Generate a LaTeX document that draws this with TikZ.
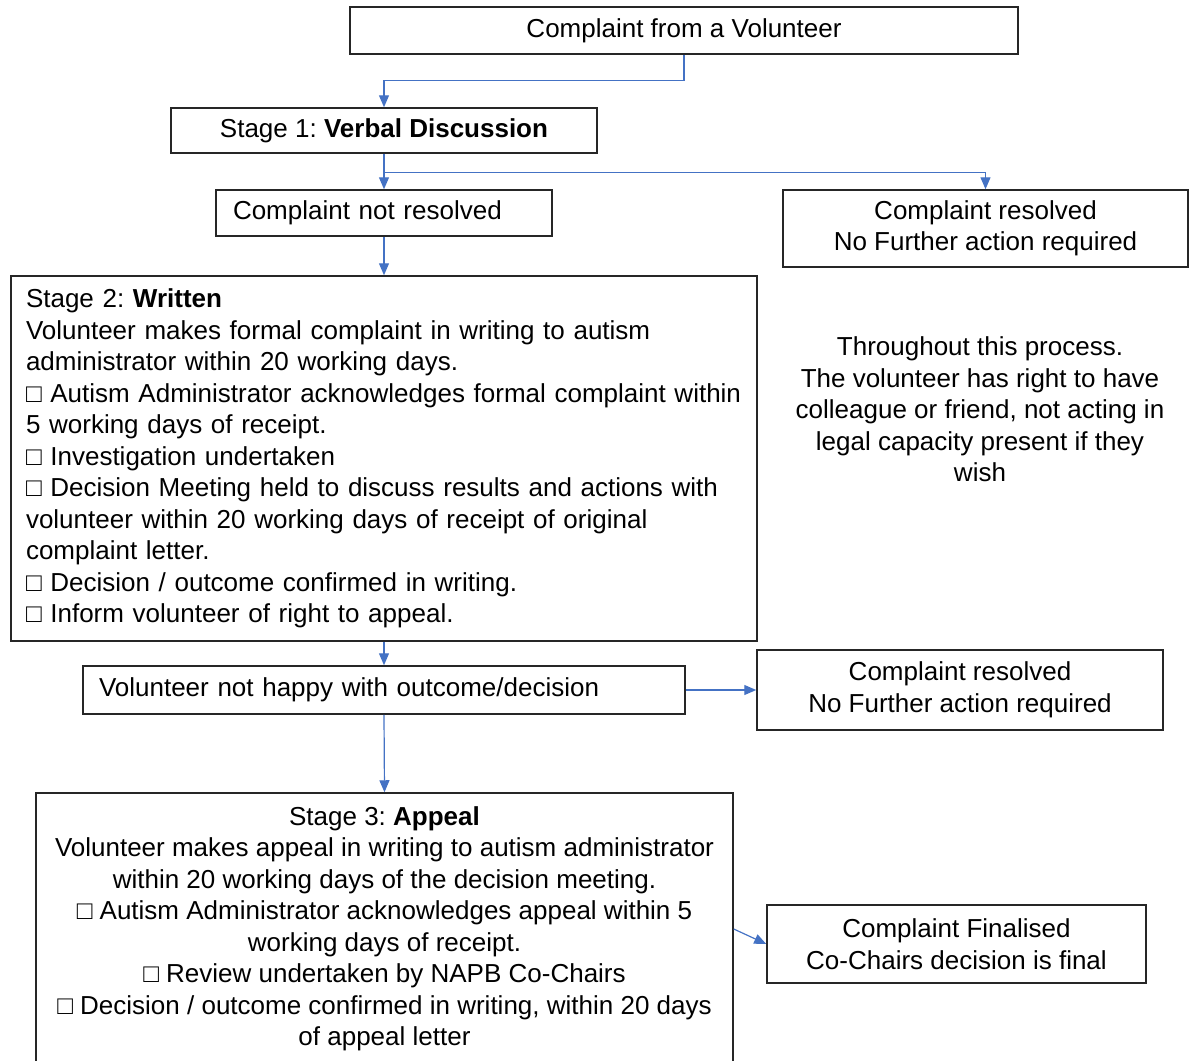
\documentclass[tikz,border=0pt]{standalone}
\usepackage{fontspec}
\setmainfont{Liberation Sans}
\usepackage{tikz}
\usepackage{xcolor}
\usetikzlibrary{arrows.meta}
\definecolor{flowblue}{RGB}{68,114,196}
\frenchspacing

\begin{document}
\begin{tikzpicture}[x=0.5pt,y=-0.5pt,
		box/.style={draw=black!85,line width=0.75pt,fill=white,align=center,
			font=\fontsize{13pt}{15.75pt}\selectfont},
		leftbox/.style={box,align=left},
		arr/.style={draw=flowblue,line width=0.6pt,-{Triangle[length=6pt,width=5pt]}}]
		\useasboundingbox (0,0) rectangle (1190,1061);
		\clip (0,0) rectangle (1190,1061);
		
		\node[box,minimum width=334pt,minimum height=23.5pt] (volunteer) at (684,30.5)
			{Complaint from a Volunteer};
		\node[box,minimum width=213pt,minimum height=22.5pt] (stageone) at (384,130.5)
			{Stage 1: \textbf{Verbal Discussion}};
		\node[leftbox,text width=151pt,inner xsep=8.5pt,minimum height=23pt] (notresolved) at (384,213)
			{Complaint not resolved};
		\node[box,minimum width=202.5pt,minimum height=38.5pt] (resolvedone) at (985.5,228.5)
			{Complaint resolved\\No Further action required};
		\node[leftbox,text width=358pt,inner xsep=7.5pt,minimum height=182.5pt] (stagetwo) at (384,458.5)
			{Stage 2: \textbf{Written}\\
			Volunteer makes formal complaint in writing to autism\\
			administrator within 20 working days.\\
			□ Autism Administrator acknowledges formal complaint within\\
			5 working days of receipt.\\
			□ Investigation undertaken\\
			□ Decision Meeting held to discuss results and actions with\\
			volunteer within 20 working days of receipt of original\\
			complaint letter.\\
			□ Decision / outcome confirmed in writing.\\
			□ Inform volunteer of right to appeal.};
		\node[box,draw=none,fill=none] (note) at (980,409.5)
			{Throughout this process.\\
			The volunteer has right to have\\
			colleague or friend, not acting in\\
			legal capacity present if they\\
			wish};
		\node[leftbox,text width=285pt,inner xsep=8pt,minimum height=24pt] (nothappy) at (384,690)
			{Volunteer not happy with outcome/decision};
		\node[box,minimum width=203pt,minimum height=40pt] (resolvedtwo) at (960,690)
			{Complaint resolved\\No Further action required};
		\node[box,minimum width=348.5pt,minimum height=136pt] (stagethree) at (384.5,929)
			{Stage 3: \textbf{Appeal}\\
			Volunteer makes appeal in writing to autism administrator\\
			within 20 working days of the decision meeting.\\
			□ Autism Administrator acknowledges appeal within 5\\
			working days of receipt.\\
			□ Review undertaken by NAPB Co-Chairs\\
			□ Decision / outcome confirmed in writing, within 20 days\\
			of appeal letter};
		\node[box,minimum width=189.5pt,minimum height=39pt] (finalised) at (956.5,944)
			{Complaint Finalised\\Co-Chairs decision is final};
		
		\draw[arr] (volunteer.south) -- ++(0,26) -| (stageone.north);
		\draw[arr] (stageone.south) -- (notresolved.north);
		\draw[arr] (stageone.south) ++(0,19) -| (resolvedone.north);
		\draw[arr] (notresolved.south) -- (stagetwo.north);
		\draw[arr] (stagetwo.south) -- (nothappy.north);
		\draw[arr] (nothappy.east) -- (resolvedtwo.west);
		\draw[arr] (nothappy.south) -- (stagethree.north);
		\draw[arr] (stagethree.east) -- (finalised.west);
		
	\end{tikzpicture}
\end{document}
